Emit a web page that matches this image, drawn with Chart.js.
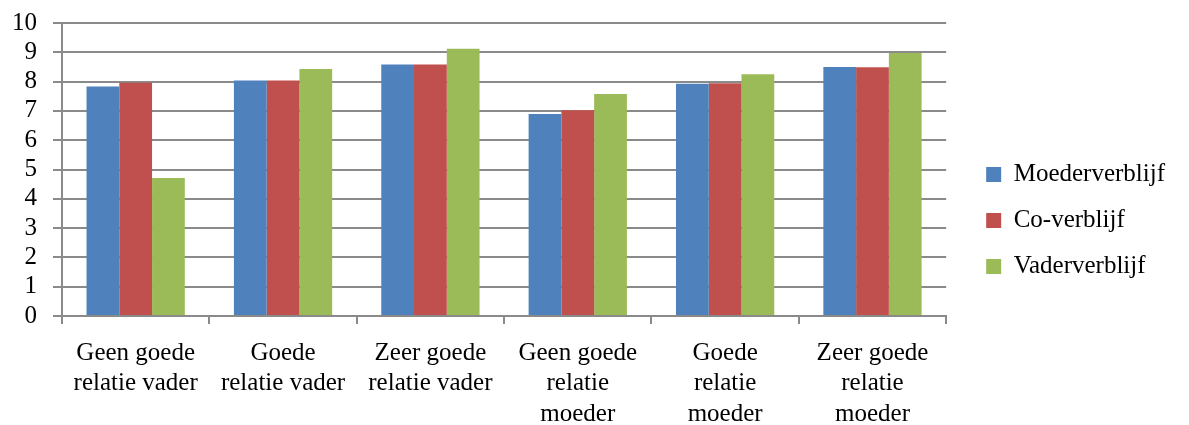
<!DOCTYPE html>
<html>
<head>
<meta charset="utf-8">
<script src="https://cdn.jsdelivr.net/npm/chart.js@4/dist/chart.umd.min.js"></script>
<style>
  html, body { margin: 0; padding: 0; background: #fff; }
  #wrap { width: 1189px; height: 425px; }
</style>
</head>
<body>
<div id="wrap"><canvas id="chart"></canvas></div>
<script>
// categorieën (meerregelig, zoals in de grafiek)
const categories = [
  ["Geen goede", "relatie vader"],
  ["Goede", "relatie vader"],
  ["Zeer goede", "relatie vader"],
  ["Geen goede", "relatie", "moeder"],
  ["Goede", "relatie", "moeder"],
  ["Zeer goede", "relatie", "moeder"],
];
const moederverblijf = [7.83, 8.04, 8.58, 6.89, 7.93, 8.50];
const coVerblijf = [7.96, 8.04, 8.58, 7.02, 7.94, 8.49];
const vaderverblijf = [4.71, 8.43, 9.12, 7.58, 8.25, 8.98];
const yTicks = [0, 1, 2, 3, 4, 5, 6, 7, 8, 9, 10];

const FONT = "'Liberation Serif', 'DejaVu Serif', serif";
const GRID = "#8a8a8a";
const LEGEND_GAP = 19; // extra ruimte tussen plot en legenda
const LEGEND_DROP = 8; // legenda iets lager

function ds(label, data, color) {
  return {
    label,
    data,
    backgroundColor: color,
    borderWidth: 0,
    categoryPercentage: 0.667,
    barPercentage: 1.0,
  };
}

// legenda iets verder van het plotvlak zetten
const legendGap = {
  id: "legendGap",
  beforeLayout(chart) {
    const lg = chart.legend;
    if (lg && !lg._gapPatched) {
      const fit = lg.fit;
      lg.fit = function () {
        fit.call(this);
        this.width += LEGEND_GAP;
      };
      lg._gapPatched = true;
    }
  },
  afterLayout(chart) {
    const lg = chart.legend;
    if (!lg) return;
    lg.left += LEGEND_GAP;
    lg.top += LEGEND_DROP;
    lg.bottom += LEGEND_DROP;
  },
};

new Chart(document.getElementById("chart"), {
  type: "bar",
  data: {
    labels: categories,
    datasets: [
      ds("Moederverblijf", moederverblijf, "#4F81BD"),
      ds("Co-verblijf", coVerblijf, "#C0504D"),
      ds("Vaderverblijf", vaderverblijf, "#9BBB59"),
    ],
  },
  options: {
    responsive: true,
    maintainAspectRatio: false,
    animation: false,
    layout: { padding: { top: 0, right: 14, left: 0, bottom: 0 } },
    plugins: {
      tooltip: { enabled: false },
      legend: {
        position: "right",
        align: "center",
        labels: {
          font: { family: FONT, size: 25 },
          color: "#000",
          boxWidth: 15,
          boxHeight: 15,
          padding: 21,
        },
      },
    },
    scales: {
      x: {
        afterFit: (axis) => {
          axis.height = 109;
        },
        grid: {
          display: true,
          offset: true,
          drawOnChartArea: false,
          drawTicks: true,
          tickLength: 8,
          color: GRID,
          lineWidth: 2,
        },
        border: { display: true, color: GRID, width: 2 },
        ticks: {
          font: { family: FONT, size: 25, lineHeight: 1.22 },
          color: "#000",
          maxRotation: 0,
          autoSkip: false,
          padding: 14,
        },
      },
      y: {
        min: 0,
        max: 10,
        afterBuildTicks: (axis) => {
          axis.ticks = yTicks.map((v) => ({ value: v }));
        },
        afterFit: (axis) => {
          axis.width = 62;
          axis.paddingTop = 23;
          axis.paddingBottom = 0;
        },
        grid: {
          color: GRID,
          lineWidth: 2,
          tickLength: 9,
        },
        border: { display: true, color: GRID, width: 2 },
        ticks: {
          font: { family: FONT, size: 25, lineHeight: 1 },
          color: "#000",
          autoSkip: false,
          padding: 16,
        },
      },
    },
  },
  plugins: [legendGap],
});
</script>
</body>
</html>
